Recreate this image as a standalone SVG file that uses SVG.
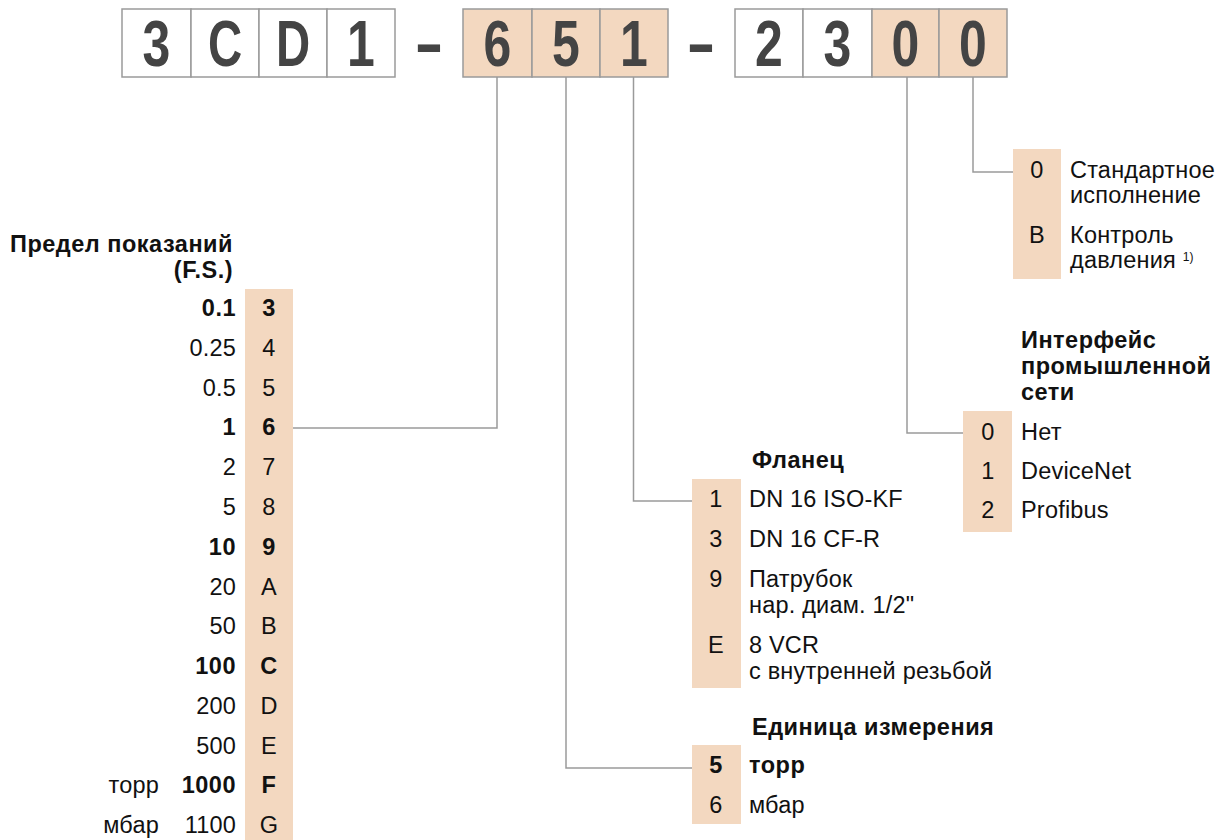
<svg xmlns="http://www.w3.org/2000/svg" width="1232" height="840" viewBox="0 0 1232 840">
<style>
.w{fill:#fff;stroke:#9a9a9a;stroke-width:1.5}
.p{fill:#f3d8c0;stroke:#9a9a9a;stroke-width:1.5}
.col{fill:#f3d8c0}
.big{font-family:"Liberation Sans",Arial,sans-serif;font-weight:bold;font-size:64px;fill:#444;text-anchor:middle}
.t{font-family:"Liberation Sans",Arial,sans-serif;font-size:23.5px;fill:#111;letter-spacing:0.2px}
.b{font-weight:bold;letter-spacing:0.5px}
.m{text-anchor:middle}
.e{text-anchor:end}
.sup{font-size:12px}
.conn{fill:none;stroke:#9a9a9a;stroke-width:1.5}
</style>
<rect width="1232" height="840" fill="#fff"/>
<g id="code">
<rect class="w" x="122" y="9" width="69" height="68"/>
<rect class="w" x="191" y="9" width="68" height="68"/>
<rect class="w" x="259" y="9" width="68" height="68"/>
<rect class="w" x="327" y="9" width="68" height="68"/>
<rect class="p" x="463" y="9" width="69" height="68"/>
<rect class="p" x="532" y="9" width="68" height="68"/>
<rect class="p" x="600" y="9" width="68" height="68"/>
<rect class="w" x="735" y="9" width="68" height="68"/>
<rect class="w" x="803" y="9" width="69" height="68"/>
<rect class="p" x="872" y="9" width="67" height="68"/>
<rect class="p" x="939" y="9" width="68" height="68"/>
<text class="big" transform="translate(156.5,65.5) scale(0.78,1)">3</text>
<text class="big" transform="translate(225,65.5) scale(0.74,1)">C</text>
<text class="big" transform="translate(293,65.5) scale(0.74,1)">D</text>
<text class="big" transform="translate(361,65.5) scale(0.78,1)">1</text>
<text class="big" transform="translate(429,69) scale(0.7,1.2)">–</text>
<text class="big" transform="translate(497.5,65.5) scale(0.78,1)">6</text>
<text class="big" transform="translate(566,65.5) scale(0.78,1)">5</text>
<text class="big" transform="translate(634,65.5) scale(0.78,1)">1</text>
<text class="big" transform="translate(701,69) scale(0.7,1.2)">–</text>
<text class="big" transform="translate(769,65.5) scale(0.78,1)">2</text>
<text class="big" transform="translate(837.5,65.5) scale(0.78,1)">3</text>
<text class="big" transform="translate(905.5,65.5) scale(0.78,1)">0</text>
<text class="big" transform="translate(973,65.5) scale(0.78,1)">0</text>
</g>
<g id="connectors">
<polyline class="conn" points="497,77 497,428 293,428"/>
<polyline class="conn" points="566,77 566,768 692,768"/>
<polyline class="conn" points="633.5,77 633.5,501 692,501"/>
<polyline class="conn" points="907,77 907,433 963,433"/>
<polyline class="conn" points="973,77 973,172 1013,172"/>
</g>
<g id="range">
<rect class="col" x="245" y="289" width="48" height="551"/>
<text class="t b e" x="233" y="252">Предел показаний</text>
<text class="t b e" x="233" y="278">(F.S.)</text>
<g class="t">
<text class="b e" x="236" y="316">0.1</text><text class="b m" x="269" y="316">3</text>
<text class="e" x="236" y="356">0.25</text><text class="m" x="269" y="356">4</text>
<text class="e" x="236" y="395.5">0.5</text><text class="m" x="269" y="395.5">5</text>
<text class="b e" x="236" y="435">1</text><text class="b m" x="269" y="435">6</text>
<text class="e" x="236" y="475">2</text><text class="m" x="269" y="475">7</text>
<text class="e" x="236" y="515">5</text><text class="m" x="269" y="515">8</text>
<text class="b e" x="236" y="555">10</text><text class="b m" x="269" y="555">9</text>
<text class="e" x="236" y="594.5">20</text><text class="m" x="269" y="594.5">A</text>
<text class="e" x="236" y="634">50</text><text class="m" x="269" y="634">B</text>
<text class="b e" x="236" y="674">100</text><text class="b m" x="269" y="674">C</text>
<text class="e" x="236" y="714">200</text><text class="m" x="269" y="714">D</text>
<text class="e" x="236" y="753.5">500</text><text class="m" x="269" y="753.5">E</text>
<text class="e" x="159" y="793">торр</text><text class="b e" x="236" y="793">1000</text><text class="b m" x="269" y="793">F</text>
<text class="e" x="159" y="833">мбар</text><text class="e" x="236" y="833">1100</text><text class="m" x="269" y="833">G</text>
</g>
</g>
<g id="flange">
<rect class="col" x="692" y="479" width="49" height="209"/>
<g class="t">
<text class="b" x="752" y="468">Фланец</text>
<text class="m" x="716" y="507">1</text><text x="749" y="507">DN 16 ISO-KF</text>
<text class="m" x="716" y="547">3</text><text x="749" y="547">DN 16 CF-R</text>
<text class="m" x="716" y="587">9</text><text x="749" y="587">Патрубок</text>
<text x="749" y="613">нар. диам. 1/2"</text>
<text class="m" x="716" y="653">E</text><text x="749" y="653">8 VCR</text>
<text x="749" y="679">с внутренней резьбой</text>
</g>
</g>
<g id="unit">
<rect class="col" x="692" y="745" width="49" height="79"/>
<g class="t">
<text class="b" x="752" y="735">Единица измерения</text>
<text class="b m" x="716" y="773">5</text><text class="b" x="749" y="773">торр</text>
<text class="m" x="716" y="813">6</text><text x="749" y="813">мбар</text>
</g>
</g>
<g id="interface">
<rect class="col" x="963" y="411" width="49" height="121"/>
<g class="t">
<text class="b" x="1021" y="348">Интерфейс</text>
<text class="b" x="1021" y="374">промышленной</text>
<text class="b" x="1021" y="400">сети</text>
<text class="m" x="988" y="440">0</text><text x="1021" y="440">Нет</text>
<text class="m" x="988" y="479">1</text><text x="1021" y="479">DeviceNet</text>
<text class="m" x="988" y="518">2</text><text x="1021" y="518">Profibus</text>
</g>
</g>
<g id="option">
<rect class="col" x="1013" y="149" width="48" height="130"/>
<g class="t">
<text class="m" x="1037" y="178">0</text><text x="1070" y="178">Стандартное</text>
<text x="1070" y="203">исполнение</text>
<text class="m" x="1037" y="243">B</text><text x="1070" y="243">Контроль</text>
<text x="1070" y="268">давления <tspan class="sup" dy="-7">1)</tspan></text>
</g>
</g>
</svg>
